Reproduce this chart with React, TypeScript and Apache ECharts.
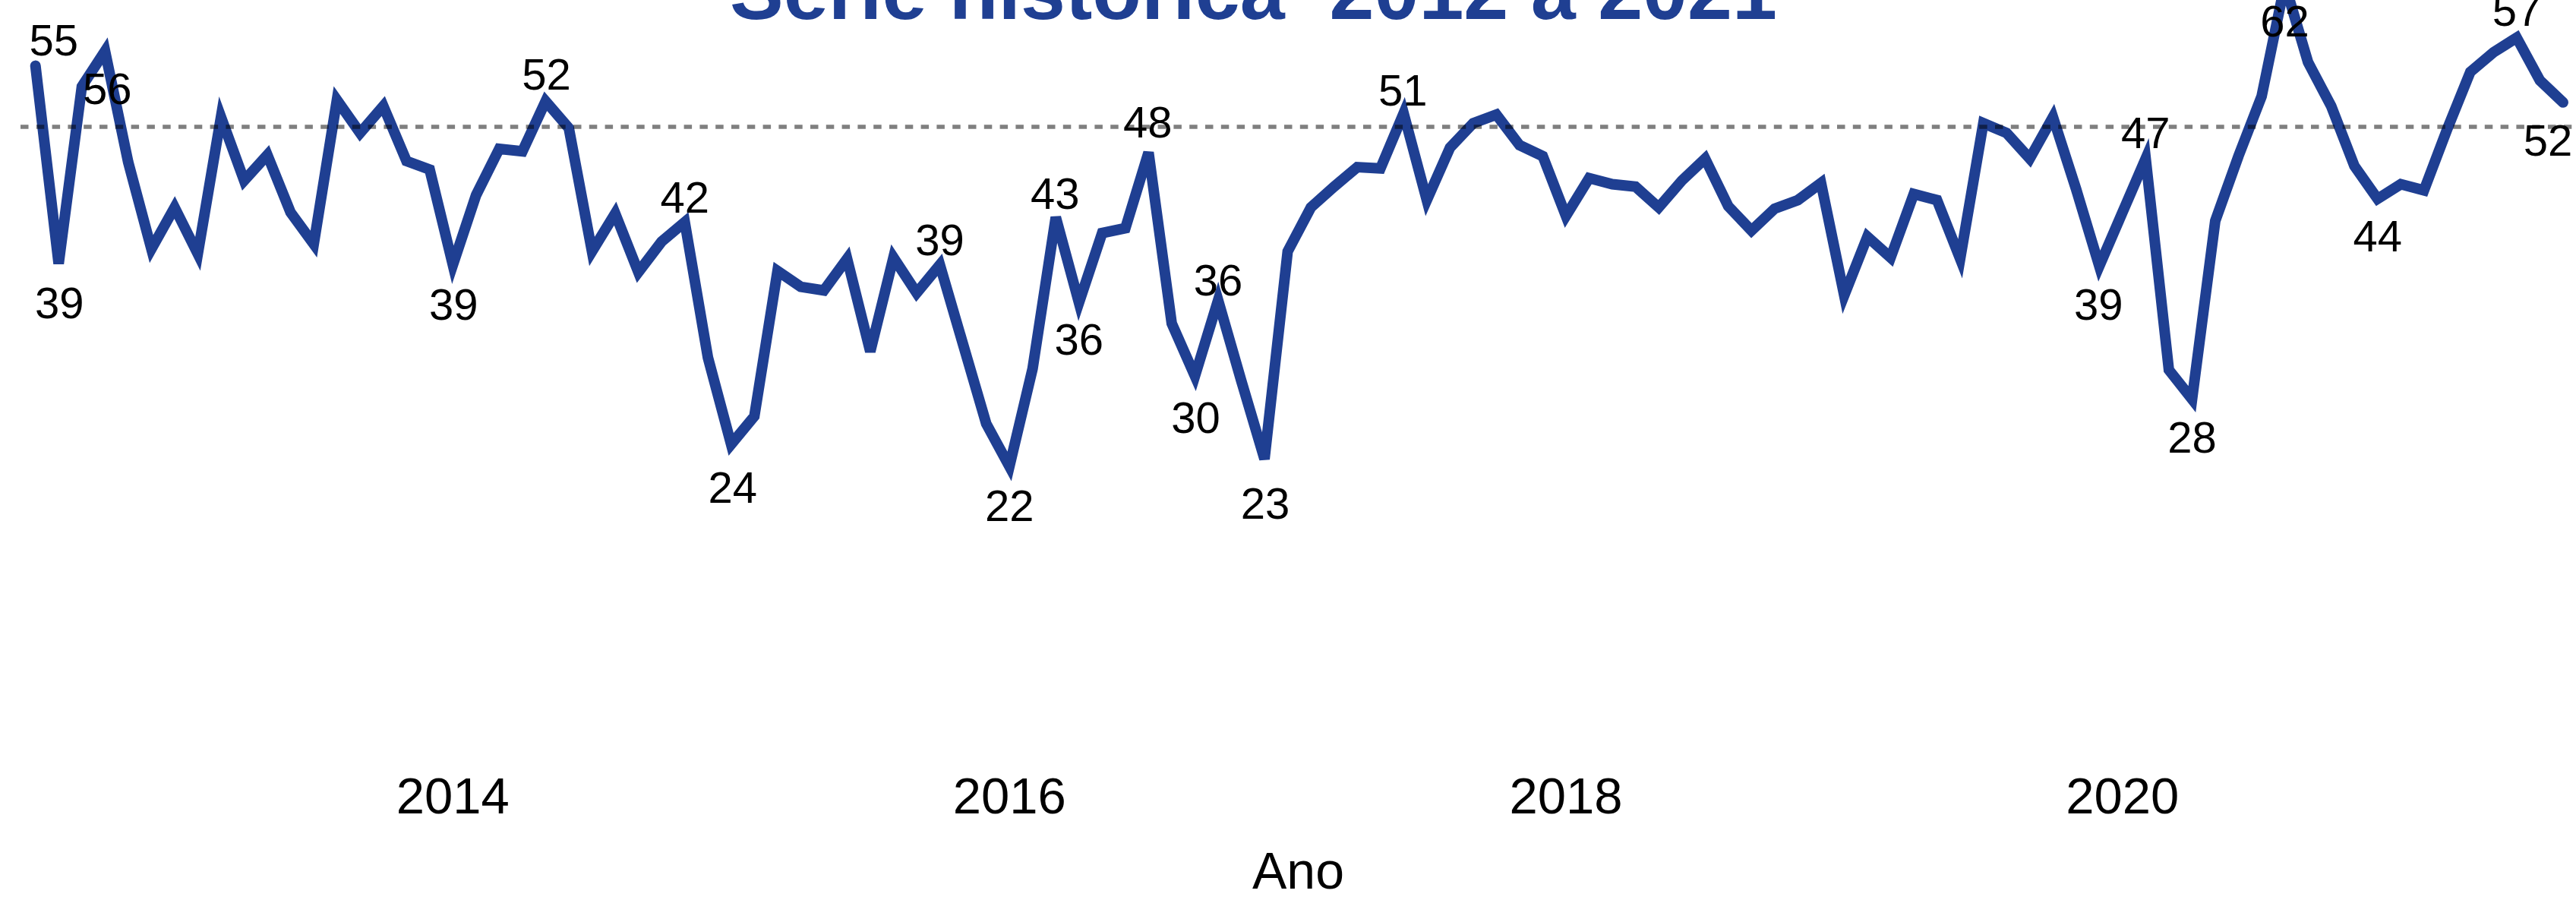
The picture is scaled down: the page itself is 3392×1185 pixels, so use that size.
import React, { useEffect, useRef } from "react";
import * as echarts from "echarts";

// ---------- data ----------
const START_YEAR = 2012;
const START_MONTH = 7; // July 2012
const values: number[] = [
  55.0, 38.8, 53.3, 56.2, 47.1, 40.0, 43.4, 39.6, 50.8, 45.6,
  47.7, 43.0, 40.4, 52.2, 49.5, 51.7, 47.2, 46.5, 38.7, 44.4,
  48.2, 48.0, 52.1, 49.9, 39.8, 42.9, 38.1, 40.6, 42.2, 31.1,
  24.0, 26.3, 38.2, 36.9, 36.6, 39.2, 31.6, 39.3, 36.4, 38.7,
  32.2, 25.7, 22.2, 30.2, 42.6, 35.6, 41.3, 41.7, 47.9, 33.9,
  29.6, 35.8, 29.2, 22.8, 39.8, 43.4, 45.1, 46.7, 46.6, 51.1,
  44.0, 48.3, 50.3, 51.0, 48.5, 47.6, 42.7, 45.8, 45.3, 45.1,
  43.4, 45.6, 47.4, 43.5, 41.5, 43.3, 44.0, 45.4, 36.2, 41.0,
  39.3, 44.5, 44.0, 39.2, 50.3, 49.5, 47.4, 50.8, 44.9, 38.6,
  43.0, 47.4, 30.1, 27.7, 42.3, 47.6, 52.5, 61.7, 55.3, 51.7,
  46.8, 44.1, 45.3, 44.8, 49.8, 54.5, 56.1, 57.3, 53.8, 52.0,
];
const months: string[] = values.map((_, i) => {
  const m0 = START_MONTH - 1 + i;
  const y = START_YEAR + Math.floor(m0 / 12);
  const m = (m0 % 12) + 1;
  return `${y}-${m < 10 ? "0" + m : m}`;
});
const tickYears: string[] = ["2014", "2016", "2018", "2020"];
const referenceLevel = 50;
const labeledIdx: number[] = [0, 1, 3, 18, 22, 28, 30, 39, 42, 44, 45, 48, 50, 51, 53, 59, 89, 91, 93, 97, 101, 107, 109];

// ---------- label placement (pixel nudges, style only) ----------
const labelNudge: Record<number, [number, number]> = {
  0: [24, -34], 1: [1, 51], 3: [3, 49], 18: [1, 52], 22: [1, -36], 28: [0, -33],
  30: [2, 56], 39: [0, -33], 42: [0, 51], 44: [-1, -31], 45: [0, 48], 48: [-1, -40],
  50: [1, 54], 51: [0, -27], 53: [1, 58], 59: [-1, -31], 89: [-1, 50], 91: [0, -34],
  93: [0, 50], 97: [0, 49], 101: [0, 49], 107: [0, -36], 109: [-20, 50],
};

const BLUE = "#1F3F92";
const FONT = '"Liberation Sans", Arial, Helvetica, sans-serif';

export default function App() {
  const ref = useRef<HTMLDivElement>(null);
  useEffect(() => {
    document.body.style.margin = "0";
    document.body.style.overflow = "hidden";
    if (!ref.current) return;
    const chart = echarts.init(ref.current, undefined, { renderer: "svg" });
    const tickIndex = tickYears.map((y) => months.indexOf(`${y}-01`));
    const data = values.map((v, i) => {
      const item: any = { value: [i, v] };
      if (labeledIdx.includes(i)) {
        item.label = { show: true };
      }
      return item;
    });
    chart.setOption({
      animation: false,
      backgroundColor: "#ffffff",
      grid: { left: 27, right: 0, top: 6.2, bottom: 192, containLabel: false },
      graphic: [
        {
          type: "text",
          x: 1650.5,
          y: -11.7,
          silent: true,
          style: {
            text: "Série histórica  2012 a 2021",
            fill: BLUE,
            font: `bold 106px ${FONT}`,
            align: "center",
            textAlign: "center",
            verticalAlign: "middle",
            textVerticalAlign: "middle",
          },
        },
      ],
      xAxis: {
        type: "value",
        min: -0.645,
        max: 109.557,
        axisLine: { show: false },
        axisTick: { show: false },
        splitLine: { show: false },
        axisLabel: {
          customValues: tickIndex,
          formatter: (val: number) => {
            const k = tickIndex.indexOf(Math.round(val));
            return k >= 0 ? tickYears[k] : "";
          },
          fontSize: 67,
          lineHeight: 67,
          fontFamily: FONT,
          color: "#000",
          margin: 43,
        },
        name: "Ano",
        nameLocation: "middle",
        nameGap: 141,
        nameTextStyle: { fontSize: 68, lineHeight: 68, fontFamily: FONT, color: "#000" },
      },
      yAxis: {
        type: "value",
        min: 0,
        max: 60,
        show: false,
        splitLine: { show: false },
      },
      series: [
        {
          type: "line",
          data,
          clip: false,
          symbol: "circle",
          symbolSize: 1,
          showSymbol: true,
          showAllSymbol: true,
          itemStyle: { color: BLUE },
          lineStyle: { color: BLUE, width: 14, join: "miter", miterLimit: 4, cap: "round" },
          label: {
            show: false,
            position: "inside",
            fontSize: 58,
            lineHeight: 58,
            fontFamily: FONT,
            color: "#000",
            formatter: (p: any) => String(Math.round(p.value[1])),
          },
          labelLayout: (p: any) => {
            const n = labelNudge[p.dataIndex];
            return n ? { dx: n[0], dy: n[1], hideOverlap: false } : { hideOverlap: false };
          },
          emphasis: { disabled: true },
          markLine: {
            silent: true,
            symbol: ["none", "none"],
            label: { show: false },
            lineStyle: { color: "rgba(0,0,0,0.5)", width: 5.6, type: [10.5, 10.3], cap: "butt" },
            data: [{ yAxis: referenceLevel }],
          },
        },
      ],
    });
    return () => chart.dispose();
  }, []);
  return <div ref={ref} style={{ width: 3392, height: 1185 }} />;
}
